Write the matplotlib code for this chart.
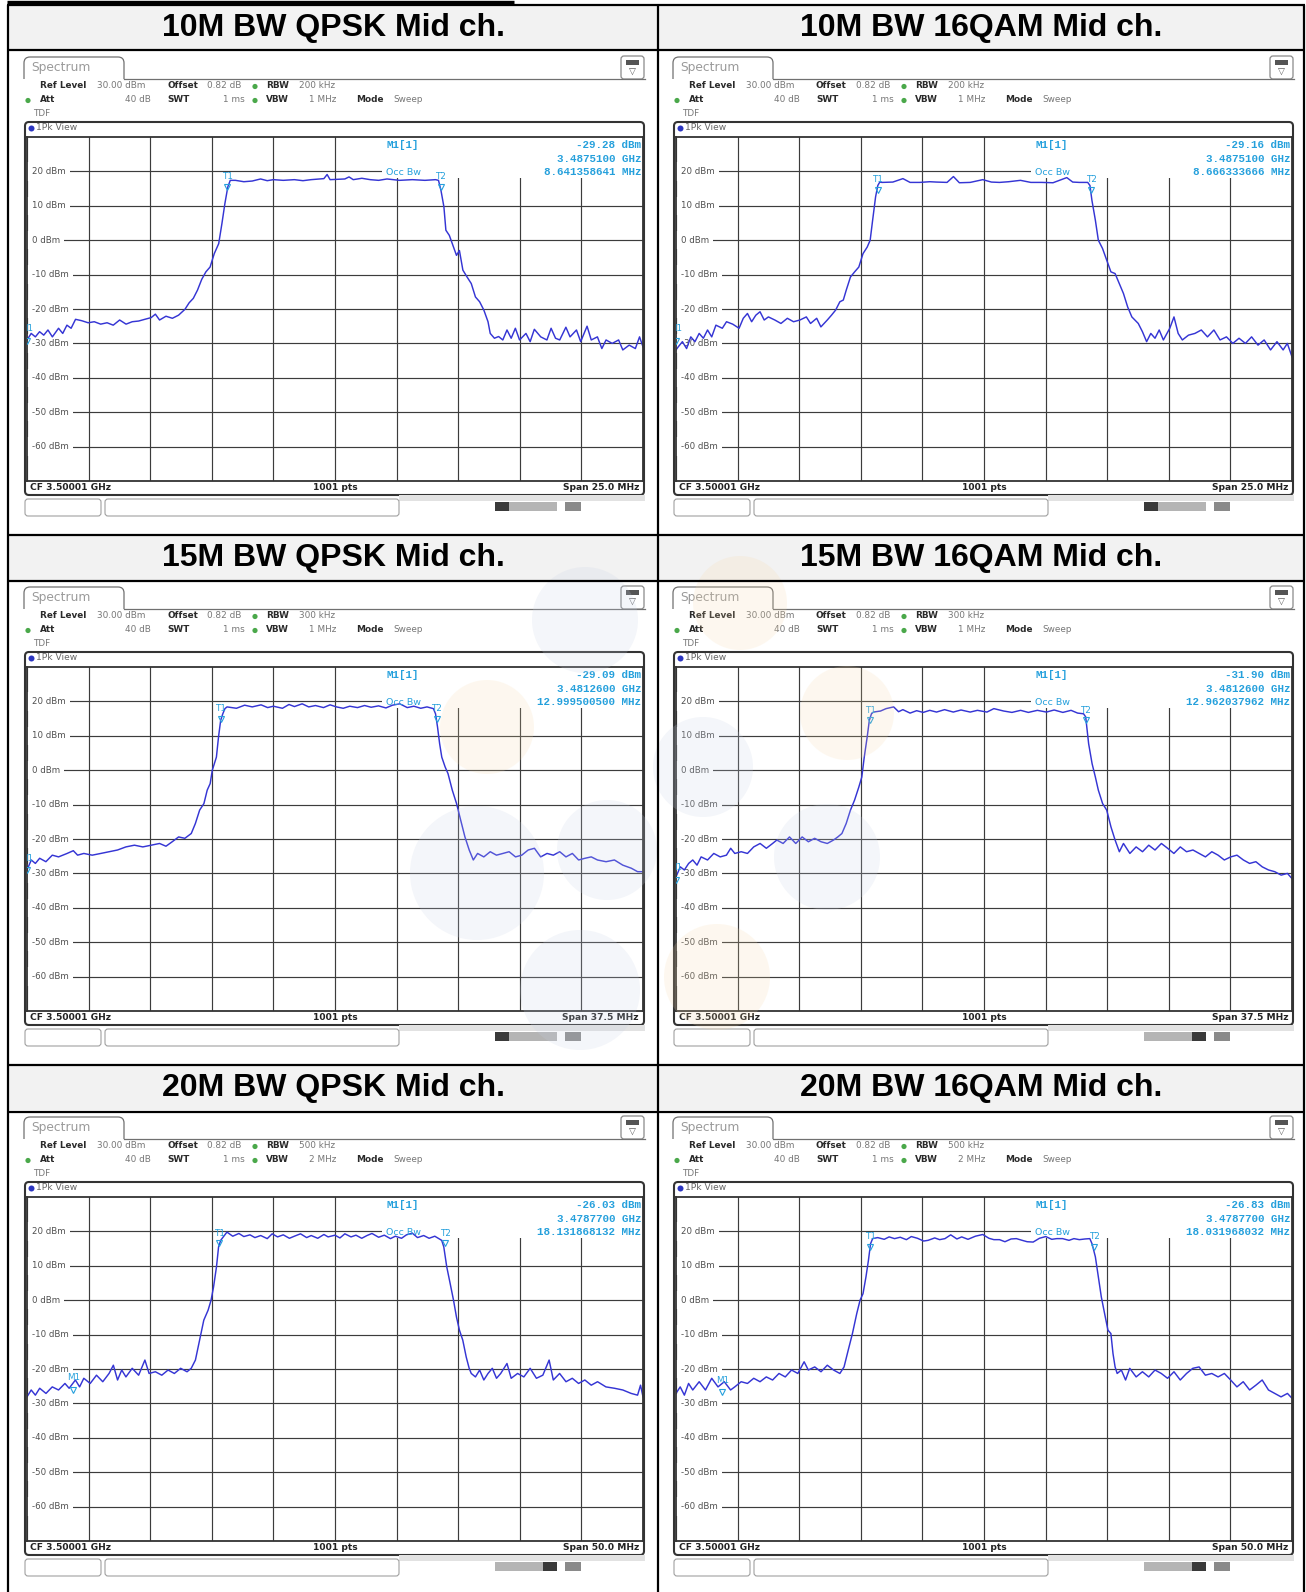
import matplotlib
matplotlib.use("Agg")
import matplotlib.pyplot as plt
import matplotlib.transforms as mtransforms
from matplotlib.patches import Circle, FancyBboxPatch, Rectangle
import numpy as np

W, H = 1306, 1592

# ---- data ------------------------------------------------------------------
titles = ["10M BW QPSK Mid ch.", "10M BW 16QAM Mid ch.",
          "15M BW QPSK Mid ch.", "15M BW 16QAM Mid ch.",
          "20M BW QPSK Mid ch.", "20M BW 16QAM Mid ch."]
spans = [25.0, 25.0, 37.5, 37.5, 50.0, 50.0]          # MHz
rbw = ["200 kHz", "200 kHz", "300 kHz", "300 kHz", "500 kHz", "500 kHz"]
vbw = ["1 MHz", "1 MHz", "1 MHz", "1 MHz", "2 MHz", "2 MHz"]
m1_level = [-29.28, -29.16, -29.09, -31.90, -26.03, -26.83]   # dBm
m1_ghz = [3.4875100, 3.4875100, 3.4812600, 3.4812600, 3.4787700, 3.4787700]
occ_bw = ["8.641358641", "8.666333666", "12.999500500",
          "12.962037962", "18.131868132", "18.031968032"]       # MHz
t1_mhz = [-4.38, -4.31, -6.96, -6.93, -9.38, -9.24]
t2_mhz = [4.29, 4.35, 6.19, 6.19, 8.94, 8.94]
t_level = [15.5, 14.5, 15.0, 14.5, 16.5, 15.5]
CF_GHZ = 3.50001

# traces: (offset from CF in MHz, level in dBm)
trace_10m_qpsk = [
    (-12.5, -29.0), (-12.33, -27.1), (-12.16, -28.1), (-11.99, -26.6), (-11.82, -27.6),
    (-11.65, -26.1), (-11.47, -28.1), (-11.22, -25.6), (-11.05, -27.1), (-10.88, -24.7),
    (-10.71, -25.6), (-10.53, -23.0), (-10.28, -23.4), (-10.02, -24.0), (-9.77, -23.7),
    (-9.51, -24.4), (-9.25, -24.0), (-9.0, -24.7), (-8.74, -23.2), (-8.48, -24.4),
    (-8.23, -23.7), (-7.97, -23.5), (-7.72, -23.0), (-7.46, -22.5), (-7.29, -21.5),
    (-7.12, -23.2), (-6.86, -22.1), (-6.6, -22.7), (-6.35, -21.8), (-6.09, -20.1),
    (-5.92, -18.2), (-5.75, -16.9), (-5.58, -14.5), (-5.41, -11.4), (-5.24, -9.2),
    (-5.07, -7.8), (-4.9, -3.9), (-4.72, -1.0), (-4.59, 4.8), (-4.47, 10.6),
    (-4.35, 15.5), (-4.25, 17.4), (-4.04, 17.4), (-3.7, 17.0), (-3.36, 17.2),
    (-3.02, 17.8), (-2.75, 17.3), (-2.5, 17.6), (-2.1, 17.4), (-1.65, 17.6),
    (-1.3, 17.3), (-0.97, 17.6), (-0.45, 17.9), (-0.32, 19.1), (-0.2, 17.6),
    (0.4, 17.8), (0.57, 18.4), (0.74, 17.6), (1.09, 18.0), (1.43, 17.6),
    (1.77, 17.4), (2.11, 17.8), (2.62, 17.4), (3.14, 17.6), (3.65, 17.4),
    (4.08, 17.6), (4.2, 17.4), (4.3, 14.5), (4.42, 9.7), (4.5, 2.9),
    (4.64, 1.4), (4.76, -1.0), (4.93, -4.4), (5.05, -3.0), (5.19, -8.7),
    (5.36, -10.7), (5.53, -12.6), (5.7, -16.5), (5.87, -17.9), (6.04, -20.3),
    (6.21, -23.7), (6.3, -27.1), (6.47, -28.5), (6.64, -28.0), (6.81, -29.0),
    (6.98, -26.1), (7.15, -28.5), (7.32, -25.6), (7.49, -29.0), (7.75, -27.1),
    (7.92, -29.5), (8.09, -25.9), (8.35, -28.1), (8.6, -29.0), (8.77, -25.6),
    (8.95, -28.5), (9.12, -29.0), (9.37, -25.3), (9.54, -28.1), (9.8, -26.1),
    (9.97, -29.5), (10.23, -25.0), (10.4, -29.0), (10.65, -28.1), (10.83, -31.5),
    (11.0, -29.0), (11.25, -30.0), (11.51, -29.0), (11.68, -31.9), (11.94, -30.5),
    (12.19, -31.5), (12.36, -28.1), (12.5, -31.0)]

trace_10m_16qam = [
    (-12.5, -31.9), (-12.41, -31.0), (-12.24, -29.5), (-12.07, -31.5), (-11.9, -28.1),
    (-11.73, -29.5), (-11.56, -27.1), (-11.39, -28.5), (-11.22, -26.1), (-11.05, -28.1),
    (-10.88, -24.7), (-10.62, -25.6), (-10.45, -23.7), (-10.2, -24.4), (-9.94, -25.6),
    (-9.77, -22.7), (-9.6, -21.3), (-9.43, -23.7), (-9.26, -21.8), (-9.09, -20.8),
    (-8.92, -23.2), (-8.75, -22.3), (-8.49, -23.2), (-8.24, -24.2), (-7.98, -22.7),
    (-7.73, -23.7), (-7.47, -23.2), (-7.21, -22.3), (-7.04, -24.2), (-6.79, -22.7),
    (-6.62, -25.2), (-6.36, -23.2), (-6.19, -21.8), (-6.02, -20.3), (-5.85, -17.9),
    (-5.71, -17.4), (-5.59, -14.5), (-5.42, -10.7), (-5.25, -9.2), (-5.08, -7.8),
    (-4.91, -3.9), (-4.74, -2.0), (-4.62, 0.0), (-4.52, 5.8), (-4.4, 12.6),
    (-4.31, 15.9), (-4.23, 16.9), (-4.14, 16.8), (-3.7, 16.9), (-3.29, 17.9),
    (-3.0, 16.8), (-2.61, 16.8), (-2.2, 17.0), (-1.93, 16.9), (-1.5, 16.8),
    (-1.24, 18.5), (-1.0, 16.7), (-0.56, 16.8), (-0.05, 17.6), (0.3, 16.9),
    (0.63, 16.8), (1.0, 17.0), (1.48, 17.4), (1.9, 16.8), (2.34, 16.8),
    (2.8, 16.7), (3.36, 18.2), (3.6, 16.9), (3.87, 16.8), (4.21, 16.8),
    (4.3, 15.9), (4.38, 11.6), (4.52, 5.8), (4.64, 0.0), (4.81, -2.4),
    (4.98, -5.8), (5.15, -9.2), (5.32, -9.7), (5.49, -12.6), (5.66, -15.5),
    (5.83, -19.4), (6.0, -22.3), (6.26, -24.2), (6.43, -26.6), (6.6, -29.5),
    (6.77, -27.1), (6.94, -28.5), (7.11, -26.1), (7.28, -29.0), (7.54, -25.6),
    (7.71, -22.3), (7.88, -27.1), (8.05, -29.0), (8.3, -27.6), (8.56, -27.1),
    (8.82, -26.1), (9.07, -28.1), (9.33, -26.1), (9.58, -29.0), (9.84, -28.1),
    (10.1, -30.0), (10.35, -28.5), (10.61, -30.0), (10.86, -28.1), (11.12, -30.5),
    (11.37, -29.0), (11.63, -31.9), (11.89, -29.5), (12.14, -31.9), (12.31, -30.0),
    (12.5, -33.9)]

trace_15m_qpsk = [
    (-18.75, -29.0), (-18.49, -26.1), (-18.24, -27.1), (-17.98, -25.6), (-17.6, -26.6),
    (-17.21, -24.7), (-16.83, -25.2), (-16.31, -24.2), (-15.93, -23.4), (-15.67, -24.7),
    (-15.29, -24.2), (-14.78, -24.7), (-14.26, -24.2), (-13.75, -23.7), (-13.24, -23.2),
    (-12.73, -22.3), (-12.21, -21.8), (-11.7, -22.3), (-11.19, -21.8), (-10.68, -21.3),
    (-10.29, -22.1), (-9.91, -20.8), (-9.52, -19.4), (-9.14, -19.8), (-8.75, -18.4),
    (-8.5, -15.5), (-8.24, -11.6), (-7.98, -9.7), (-7.78, -5.8), (-7.6, -3.9),
    (-7.47, 0.0), (-7.22, 3.8), (-7.09, 9.7), (-6.96, 14.5), (-6.83, 16.4),
    (-6.7, 17.9), (-6.57, 18.4), (-6.0, 18.0), (-5.5, 18.9), (-5.04, 18.4),
    (-4.5, 19.0), (-4.1, 18.2), (-3.75, 18.6), (-3.2, 18.0), (-2.8, 19.1),
    (-2.47, 18.5), (-2.0, 19.3), (-1.6, 18.4), (-1.19, 18.8), (-0.7, 18.2),
    (-0.3, 19.0), (0.09, 18.4), (0.5, 18.0), (0.9, 18.6), (1.37, 18.2),
    (1.8, 18.8), (2.2, 18.3), (2.65, 18.7), (3.1, 18.1), (3.5, 18.9),
    (3.94, 19.3), (4.4, 18.2), (4.8, 18.6), (5.22, 18.0), (5.6, 18.4),
    (5.99, 17.9), (6.12, 16.4), (6.24, 12.6), (6.37, 7.7), (6.5, 3.8),
    (6.7, 1.0), (6.88, -1.0), (7.14, -5.8), (7.4, -9.7), (7.65, -14.5),
    (7.91, -19.4), (8.17, -23.2), (8.42, -26.1), (8.68, -24.2), (9.06, -25.2),
    (9.45, -23.7), (9.83, -24.7), (10.22, -24.2), (10.6, -23.7), (10.99, -25.2),
    (11.37, -24.7), (11.76, -23.2), (12.14, -22.7), (12.52, -25.2), (12.91, -24.2),
    (13.29, -24.7), (13.68, -23.7), (14.06, -25.2), (14.45, -24.2), (14.83, -26.1),
    (15.22, -25.6), (15.6, -25.2), (15.98, -26.1), (16.5, -26.6), (17.01, -26.1),
    (17.52, -27.6), (18.04, -28.5), (18.42, -29.5), (18.75, -29.5)]

trace_15m_16qam = [
    (-18.75, -31.0), (-18.49, -28.1), (-18.24, -29.0), (-17.98, -27.1), (-17.73, -26.1),
    (-17.47, -27.6), (-17.22, -25.2), (-16.83, -26.1), (-16.45, -24.2), (-16.06, -25.2),
    (-15.68, -24.7), (-15.42, -22.7), (-15.17, -24.2), (-14.78, -23.7), (-14.4, -24.2),
    (-14.02, -22.3), (-13.63, -21.3), (-13.25, -22.7), (-12.87, -21.3), (-12.61, -20.3),
    (-12.23, -21.3), (-11.84, -19.4), (-11.46, -21.3), (-11.07, -19.4), (-10.69, -20.8),
    (-10.31, -19.8), (-9.92, -20.8), (-9.54, -21.3), (-9.16, -20.3), (-8.9, -19.4),
    (-8.65, -18.4), (-8.39, -15.5), (-8.13, -11.6), (-7.88, -8.7), (-7.62, -4.9),
    (-7.44, -2.0), (-7.29, 3.8), (-7.11, 9.7), (-6.98, 14.5), (-6.85, 16.4),
    (-6.73, 16.9), (-6.3, 17.2), (-5.96, 17.9), (-5.5, 18.4), (-5.2, 17.0),
    (-4.94, 17.6), (-4.5, 16.6), (-4.1, 17.3), (-3.7, 16.8), (-3.3, 17.4),
    (-2.89, 16.9), (-2.4, 17.6), (-1.87, 16.9), (-1.4, 17.5), (-0.84, 16.9),
    (-0.4, 17.4), (0.18, 16.9), (0.6, 17.9), (1.2, 17.2), (1.7, 16.8),
    (2.23, 17.4), (2.7, 16.8), (3.25, 17.4), (3.8, 16.9), (4.27, 17.5),
    (4.8, 16.8), (5.3, 17.4), (5.7, 16.6), (6.06, 16.4), (6.19, 15.5),
    (6.37, 7.7), (6.58, 1.9), (6.78, -2.0), (6.96, -5.8), (7.22, -9.7),
    (7.47, -11.6), (7.73, -16.5), (7.98, -20.3), (8.24, -23.7), (8.49, -21.3),
    (8.88, -24.2), (9.26, -22.3), (9.65, -23.7), (10.03, -21.8), (10.41, -23.2),
    (10.8, -21.3), (11.18, -22.7), (11.56, -24.2), (11.95, -22.3), (12.33, -23.7),
    (12.72, -23.2), (13.1, -24.2), (13.48, -25.2), (13.87, -23.7), (14.25, -24.7),
    (14.63, -26.1), (15.02, -25.2), (15.4, -24.7), (15.79, -26.1), (16.17, -27.1),
    (16.55, -26.6), (16.94, -28.1), (17.32, -29.0), (17.7, -29.5), (18.09, -30.5),
    (18.47, -30.0), (18.75, -31.5)]

trace_20m_qpsk = [
    (-25.0, -28.1), (-24.66, -26.1), (-24.32, -27.6), (-23.97, -25.6), (-23.46, -27.1),
    (-22.95, -25.2), (-22.44, -26.1), (-21.92, -24.2), (-21.58, -25.6), (-21.07, -23.2),
    (-20.73, -25.2), (-20.39, -22.7), (-19.87, -24.2), (-19.36, -21.8), (-18.85, -23.7),
    (-18.34, -21.3), (-17.99, -18.9), (-17.65, -23.2), (-17.31, -20.3), (-16.97, -22.3),
    (-16.46, -19.8), (-15.94, -21.8), (-15.43, -17.4), (-15.09, -21.3), (-14.58, -20.8),
    (-14.06, -21.8), (-13.55, -20.3), (-13.04, -21.3), (-12.53, -19.8), (-12.01, -20.8),
    (-11.67, -19.8), (-11.33, -17.4), (-10.99, -11.6), (-10.65, -5.8), (-10.3, -2.9),
    (-10.06, 0.0), (-9.86, 3.8), (-9.62, 9.7), (-9.45, 15.5), (-9.28, 17.4),
    (-8.77, 19.8), (-8.3, 18.6), (-7.8, 19.4), (-7.4, 18.5), (-6.9, 19.0),
    (-6.5, 18.2), (-6.03, 18.8), (-5.5, 17.9), (-5.1, 19.3), (-4.66, 18.4),
    (-4.2, 19.0), (-3.7, 18.0), (-3.3, 18.6), (-2.8, 19.3), (-2.3, 18.2),
    (-1.93, 18.8), (-1.4, 18.0), (-0.9, 19.1), (-0.56, 18.4), (0.0, 18.9),
    (0.4, 18.1), (0.8, 19.3), (1.3, 18.4), (1.7, 18.9), (2.17, 18.0),
    (2.6, 18.8), (3.0, 19.4), (3.54, 18.3), (4.0, 18.9), (4.5, 17.9),
    (4.9, 18.6), (5.4, 18.0), (5.8, 19.0), (6.27, 19.5), (6.7, 18.2),
    (7.2, 18.8), (7.64, 18.0), (8.1, 18.6), (8.66, 17.4), (8.83, 15.5),
    (9.07, 9.7), (9.35, 4.8), (9.62, 0.0), (9.86, -4.9), (10.1, -8.7),
    (10.37, -11.6), (10.65, -16.5), (10.89, -19.8), (11.06, -21.3), (11.4, -22.3),
    (11.74, -20.3), (12.08, -23.2), (12.42, -21.3), (12.77, -19.8), (13.11, -22.7),
    (13.45, -21.3), (13.96, -18.4), (14.3, -22.7), (14.82, -21.3), (15.33, -22.3),
    (15.84, -19.8), (16.35, -22.7), (16.87, -21.8), (17.38, -17.4), (17.72, -23.2),
    (18.23, -21.3), (18.75, -23.7), (19.26, -22.7), (19.77, -24.2), (20.28, -23.2),
    (20.8, -24.7), (21.31, -23.7), (21.99, -25.2), (22.68, -25.6), (23.36, -26.1),
    (24.04, -27.1), (24.56, -27.6), (24.8, -24.7), (25.0, -28.1)]

trace_20m_16qam = [
    (-25.0, -27.1), (-24.66, -25.2), (-24.32, -27.6), (-23.98, -24.2), (-23.64, -26.1),
    (-23.12, -23.7), (-22.61, -26.1), (-22.1, -22.7), (-21.59, -25.2), (-21.08, -23.7),
    (-20.57, -26.1), (-20.23, -25.2), (-19.71, -23.7), (-19.2, -24.2), (-18.69, -22.7),
    (-18.18, -23.7), (-17.67, -22.3), (-17.16, -23.2), (-16.64, -21.3), (-16.13, -22.3),
    (-15.62, -20.3), (-15.11, -21.3), (-14.6, -17.9), (-14.26, -20.3), (-13.74, -19.4),
    (-13.23, -20.8), (-12.72, -18.9), (-12.21, -20.3), (-11.7, -21.3), (-11.36, -19.4),
    (-11.02, -14.5), (-10.68, -9.7), (-10.33, -3.9), (-10.06, 0.0), (-9.82, 1.9),
    (-9.58, 6.8), (-9.38, 11.6), (-9.21, 16.4), (-9.04, 17.9), (-8.63, 18.2),
    (-8.1, 17.7), (-7.7, 18.4), (-7.26, 17.9), (-6.8, 18.3), (-6.3, 17.6),
    (-5.9, 18.5), (-5.4, 18.0), (-4.9, 17.2), (-4.54, 17.4), (-4.0, 18.1),
    (-3.6, 17.6), (-3.17, 17.9), (-2.7, 19.0), (-2.2, 17.8), (-1.81, 18.4),
    (-1.3, 17.7), (-0.7, 18.6), (-0.1, 19.1), (0.4, 18.0), (0.8, 17.6),
    (1.26, 17.6), (1.7, 17.0), (2.2, 17.8), (2.63, 17.9), (3.1, 17.4),
    (3.5, 17.0), (3.99, 16.9), (4.5, 18.0), (5.01, 18.5), (5.5, 17.7),
    (5.9, 17.9), (6.38, 17.9), (6.9, 17.4), (7.3, 17.9), (7.74, 17.6),
    (8.2, 17.8), (8.59, 17.9), (8.77, 16.4), (9.04, 12.6), (9.28, 6.8),
    (9.52, 1.0), (9.79, -3.9), (10.06, -8.7), (10.3, -9.7), (10.47, -15.5),
    (10.64, -19.4), (10.81, -21.3), (11.15, -20.3), (11.49, -23.2), (11.83, -19.8),
    (12.35, -22.3), (12.86, -20.8), (13.37, -22.3), (13.88, -20.3), (14.39, -21.3),
    (14.9, -22.7), (15.42, -20.8), (15.93, -23.2), (16.44, -21.3), (16.95, -19.8),
    (17.46, -19.4), (17.97, -21.8), (18.49, -21.3), (19.0, -22.3), (19.51, -21.3),
    (20.02, -23.2), (20.53, -25.2), (21.04, -23.7), (21.56, -26.1), (22.07, -24.7),
    (22.58, -23.2), (23.09, -26.1), (23.6, -27.1), (24.11, -28.1), (24.63, -27.1),
    (25.0, -28.5)]

traces = [trace_10m_qpsk, trace_10m_16qam, trace_15m_qpsk,
          trace_15m_16qam, trace_20m_qpsk, trace_20m_16qam]

# ---- styles -----------------------------------------------------------------
TRACE = "#3535d4"
CYAN = "#25a0dc"
GRID = "#3c3c3c"
GREEN = "#4aa84a"
SANS = "DejaVu Sans"

fig = plt.figure(figsize=(W / 100, H / 100), dpi=100)

bg = fig.add_axes([0, 0, 1, 1], zorder=0)
bg.set_xlim(0, W)
bg.set_ylim(H, 0)
bg.axis("off")

col_x = [9, 658]
col_edges = [(8, 658), (658, 1304)]
row_y = [5, 535, 1065]


def txt(x, y, s, **kw):
    opts = dict(va="center", ha="left", family=SANS, fontsize=6.4, color="#777777")
    opts.update(kw)
    bg.text(x, y, s, **opts)


def chrome(k, x0, R):
    # tab
    bg.add_patch(FancyBboxPatch((x0 + 15, R + 52), 100, 30,
                                boxstyle="round,pad=0,rounding_size=6",
                                fc="white", ec="#707070", lw=0.9))
    bg.add_patch(Rectangle((x0 + 14, R + 74), 103, 10, fc="white", ec="none"))
    bg.plot([x0 + 115, x0 + 636], [R + 73.5, R + 73.5], color="#707070", lw=0.9)
    txt(x0 + 22, R + 63, "Spectrum", fontsize=8.8, color="#9a9a9a")
    # corner icon
    bg.add_patch(FancyBboxPatch((x0 + 612, R + 51), 23, 23,
                                boxstyle="round,pad=0,rounding_size=3",
                                fc="white", ec="#8a8a8a", lw=0.9))
    bg.add_patch(Rectangle((x0 + 617, R + 55), 13, 5, fc="#555555", ec="none"))
    txt(x0 + 623.5, R + 67, "\u25bd", ha="center", fontsize=6.5, color="#555555")

    # setting lines
    dark = "#2a2a2a"
    txt(x0 + 31, R + 81, "Ref Level", weight="bold", color=dark)
    txt(x0 + 88, R + 81, "30.00 dBm")
    txt(x0 + 158, R + 81, "Offset", weight="bold", color=dark)
    txt(x0 + 198, R + 81, "0.82 dB")
    bg.add_patch(Circle((x0 + 246, R + 81.5), 2.6, fc=GREEN, ec="none"))
    txt(x0 + 257, R + 81, "RBW", weight="bold", color=dark)
    txt(x0 + 290, R + 81, rbw[k])

    bg.add_patch(Circle((x0 + 19, R + 95.5), 2.6, fc=GREEN, ec="none"))
    txt(x0 + 31, R + 95, "Att", weight="bold", color=dark)
    txt(x0 + 142, R + 95, "40 dB", ha="right")
    txt(x0 + 158, R + 95, "SWT", weight="bold", color=dark)
    txt(x0 + 236, R + 95, "1 ms", ha="right")
    bg.add_patch(Circle((x0 + 246, R + 95.5), 2.6, fc=GREEN, ec="none"))
    txt(x0 + 257, R + 95, "VBW", weight="bold", color=dark)
    txt(x0 + 300, R + 95, vbw[k])
    txt(x0 + 347, R + 95, "Mode", weight="bold", color=dark)
    txt(x0 + 384, R + 95, "Sweep")
    txt(x0 + 24, R + 108, "TDF")

    # display frame
    bg.add_patch(FancyBboxPatch((x0 + 16, R + 117), 619, 373,
                                boxstyle="round,pad=0,rounding_size=4",
                                fc="white", ec="#333333", lw=1.5))
    bg.add_patch(Circle((x0 + 22.5, R + 123.5), 3.0, fc="#2b35c0", ec="none"))
    txt(x0 + 27, R + 123, "1Pk View", fontsize=6.6, color="#666666")
    bold = dict(weight="bold", color="#222222", fontsize=6.6)
    txt(x0 + 21, R + 483, "CF 3.50001 GHz", **bold)
    txt(x0 + 326, R + 483, "1001 pts", ha="center", **bold)
    txt(x0 + 630, R + 483, f"Span {spans[k]:.1f} MHz", ha="right", **bold)

    # status bar
    bg.add_patch(Rectangle((x0 + 390, R + 490), 246, 6, fc="#e2e2e2", ec="none"))
    bg.add_patch(FancyBboxPatch((x0 + 16, R + 494), 76, 17,
                                boxstyle="round,pad=0,rounding_size=3",
                                fc="white", ec="#a0a0a0", lw=0.8))
    bg.add_patch(FancyBboxPatch((x0 + 96, R + 494), 294, 17,
                                boxstyle="round,pad=0,rounding_size=3",
                                fc="white", ec="#a0a0a0", lw=0.8))
    bg.add_patch(Rectangle((x0 + 486, R + 497), 62, 9, fc="#b4b4b4", ec="none"))
    dark_x = x0 + 486 if k < 3 else x0 + 534
    bg.add_patch(Rectangle((dark_x, R + 497), 14, 9, fc="#3a3a3a", ec="none"))
    bg.add_patch(Rectangle((x0 + 556, R + 497), 16, 9, fc="#8a8a8a", ec="none"))


for k in range(6):
    r, c = divmod(k, 2)
    x0, R = col_x[c], row_y[r]
    left, right = col_edges[c]

    # header cell
    bg.add_patch(Rectangle((left, R), right - left, 45, fc="#f2f2f2", ec="none"))
    bg.text((left + right) / 2, R + 23, titles[k], ha="center", va="center",
            family="Liberation Sans", weight="bold", fontsize=23, color="black")

    chrome(k, x0, R)

    # measurement display
    ax = fig.add_axes([(x0 + 18) / W, 1 - (R + 476) / H, 616 / W, 344 / H], zorder=1)
    half = spans[k] / 2
    ax.set_xlim(-half, half)
    ax.set_ylim(-70, 30)
    ax.set_xticks(np.linspace(-half, half, 11))
    ax.set_yticks(np.arange(-60, 30, 10))
    ax.grid(True, color=GRID, lw=0.85)
    ax.tick_params(length=0, labelbottom=False, labelleft=False)
    for sp in ax.spines.values():
        sp.set_color("#333333")
        sp.set_linewidth(1.3)

    trans = mtransforms.blended_transform_factory(ax.transAxes, ax.transData)
    for v in range(-60, 30, 10):
        ax.text(0.0075, v, f"{v} dBm", transform=trans, va="center", ha="left",
                family=SANS, fontsize=6.2, color="#505050", zorder=1.9,
                bbox=dict(fc="white", ec="none", pad=3.4))

    # marker info area
    ax.add_patch(Rectangle((0.577, 0.882), 0.423, 0.118, transform=ax.transAxes,
                           fc="white", ec="none", zorder=1.8))
    mono = dict(transform=trans, va="center", family="Liberation Mono",
                weight="bold", fontsize=7.8, color=CYAN, zorder=4)
    ax.text(0.583, 27.6, "M1[1]", ha="left", **mono)
    ax.text(0.997, 27.6, f"{m1_level[k]:.2f} dBm", ha="right", **mono)
    ax.text(0.997, 23.7, f"{m1_ghz[k]:.7f} GHz", ha="right", **mono)
    ax.text(0.997, 19.8, f"{occ_bw[k]} MHz", ha="right", **mono)
    ax.text(0.583, 19.8, "Occ Bw", transform=trans, ha="left", va="center",
            family=SANS, fontsize=6.8, color=CYAN, zorder=4)

    # trace
    f, p = zip(*traces[k])
    ax.plot(f, p, color=TRACE, lw=1.05, zorder=2.2)

    # T1 / T2 and M1 markers
    for tf, lab in ((t1_mhz[k], "T1"), (t2_mhz[k], "T2")):
        ax.plot(tf, t_level[k], marker="v", ms=4, mfc="none", mec=CYAN,
                mew=0.8, zorder=3)
        ax.text(tf, t_level[k] + 3.0, lab, ha="center", va="center",
                family=SANS, fontsize=6.3, color=CYAN, zorder=3)
    m1_f = (m1_ghz[k] - CF_GHZ) * 1000
    ax.plot(m1_f, m1_level[k], marker="v", ms=4, mfc="none", mec=CYAN,
            mew=0.8, zorder=3)
    ax.text(m1_f, m1_level[k] + 3.5, "M1", ha="center", va="center",
            family=SANS, fontsize=6.3, color=CYAN, zorder=3, clip_on=True)

# ---- overlay: faint watermark and table rules -------------------------------
ov = fig.add_axes([0, 0, 1, 1], zorder=5)
ov.set_xlim(0, W)
ov.set_ylim(H, 0)
ov.axis("off")
ov.patch.set_alpha(0)

for cx, cy, rad in [(585, 620, 53), (477, 873, 67), (607, 850, 50),
                    (827, 857, 53), (580, 990, 60), (703, 767, 50)]:
    ov.add_patch(Circle((cx, cy), rad, fc="#c8d2e6", ec="none", alpha=0.2))
for cx, cy, rad in [(487, 727, 47), (740, 603, 47), (847, 713, 47), (717, 977, 53)]:
    ov.add_patch(Circle((cx, cy), rad, fc="#f8d8a8", ec="none", alpha=0.18))

rule = dict(color="black", lw=1.6, solid_capstyle="butt")
for x in (8, 658, 1304):
    ov.plot([x, x], [5, H], **rule)
for y in (5, 50, 535, 581, 1065, 1112):
    ov.plot([7, 1305], [y, y], **rule)
ov.plot([7, 514], [1.5, 1.5], color="black", lw=2.4, solid_capstyle="butt")

fig.savefig("out.png", dpi=100)
